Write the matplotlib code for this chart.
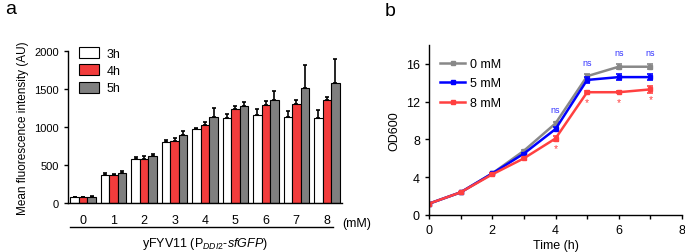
import numpy as np
import matplotlib
matplotlib.use("Agg")
import matplotlib.pyplot as plt

plt.rcParams['font.family'] = ['Liberation Sans', 'DejaVu Sans']
plt.rcParams['mathtext.fontset'] = 'custom'
plt.rcParams['mathtext.rm'] = 'Liberation Sans'
plt.rcParams['mathtext.it'] = 'Liberation Sans:italic'
plt.rcParams['font.size'] = 8

# ---------------- panel a data ----------------
conc = ['0', '1', '2', '3', '4', '5', '6', '7', '8']
hours = ['3h', '4h', '5h']
fl_3h = [75, 375, 575, 800, 970, 1120, 1160, 1135, 1125]
fl_4h = [75, 365, 585, 815, 1020, 1240, 1285, 1305, 1355]
fl_5h = [80, 395, 615, 900, 1135, 1280, 1355, 1510, 1580]
err_3h = [10, 15, 25, 30, 20, 50, 75, 75, 100]
err_4h = [10, 15, 30, 40, 50, 30, 60, 50, 40]
err_5h = [10, 20, 35, 50, 110, 45, 120, 300, 310]

# ---------------- panel b data ----------------
time_h = [0, 1, 2, 3, 4, 5, 6, 7]
od_0mM = [1.2, 2.4, 4.4, 6.8, 9.7, 14.7, 15.7, 15.7]
od_5mM = [1.2, 2.4, 4.4, 6.5, 9.1, 14.3, 14.6, 14.6]
od_8mM = [1.2, 2.4, 4.3, 6.0, 8.1, 13.0, 13.0, 13.3]
sd_0mM = [0.05, 0.05, 0.1, 0.1, 0.2, 0.2, 0.25, 0.25]
sd_5mM = [0.05, 0.05, 0.1, 0.1, 0.25, 0.3, 0.3, 0.3]
sd_8mM = [0.05, 0.05, 0.1, 0.1, 0.3, 0.1, 0.1, 0.4]
sig_times = [4, 5, 6, 7]

fig = plt.figure(figsize=(6.85, 2.53), dpi=100)

#====================== PANEL A ======================
ax1 = fig.add_axes([68 / 685, 1 - 204 / 253, 274 / 685, 152 / 253])
x = np.arange(len(conc))
w = 0.28
colors = ['white', '#f23c3c', '#7f7f7f']
for k, (vals, errs) in enumerate([(fl_3h, err_3h), (fl_4h, err_4h), (fl_5h, err_5h)]):
    ax1.bar(x + (k - 1) * w, vals, w, color=colors[k], edgecolor='black',
            linewidth=0.8, label=hours[k], zorder=2)
    ax1.errorbar(x + (k - 1) * w, vals, yerr=[np.zeros(len(errs)), errs],
                 fmt='none', ecolor='black', elinewidth=1.2, capsize=1.5,
                 capthick=1.2, zorder=3)

ax1.set_xlim(-0.5, 8.5)
ax1.set_ylim(0, 2000)
ax1.set_yticks([0, 500, 1000, 1500, 2000])
ax1.set_xticks(x)
ax1.set_xticklabels(conc, fontsize=9)
ax1.tick_params(axis='x', length=0, pad=8)
ax1.tick_params(axis='y', length=3, width=1, labelsize=8)
ax1.spines['top'].set_visible(False)
ax1.spines['right'].set_visible(False)
ax1.spines['left'].set_linewidth(1)
ax1.spines['bottom'].set_linewidth(1)
ax1.set_ylabel('Mean fluorescence intensity (AU)', fontsize=8.5, labelpad=4)
ax1.legend(loc='upper left', bbox_to_anchor=(0.0, 1.1), frameon=False,
           fontsize=9, handlelength=1.6, handleheight=1.0, labelspacing=0.35,
           handletextpad=0.6)
ax1.text(8.5, -0.095, '(mM)', transform=ax1.get_xaxis_transform(),
         ha='left', va='top', fontsize=9)
ax1.plot([-0.45, 8.2], [-0.155, -0.155], color='black', lw=1,
         transform=ax1.get_xaxis_transform(), clip_on=False)
ax1.text(4.0, -0.21, r'yFYV11 (P$_{\it{DDI2}}$-$\it{sfGFP}$)',
         transform=ax1.get_xaxis_transform(), ha='center', va='top', fontsize=9)

#====================== PANEL B ======================
ax2 = fig.add_axes([429 / 685, 1 - 216 / 253, 253 / 685, 170 / 253])
series = [(od_0mM, sd_0mM, '#888888', '0 mM'),
          (od_5mM, sd_5mM, '#0000ff', '5 mM'),
          (od_8mM, sd_8mM, '#ff4040', '8 mM')]
for vals, sds, c, lab in series:
    ax2.errorbar(time_h, vals, yerr=sds, fmt='none', ecolor=c, capsize=2,
                 capthick=1.2, elinewidth=1.2)
    ax2.plot(time_h, vals, color=c, lw=1.8, marker='s', markersize=2.5,
             label=lab)

for t in sig_times:
    i = time_h.index(t)
    ax2.text(t, od_0mM[i] + 1.0, 'ns', color='#3333ff', fontsize=6.5,
             ha='center', va='bottom')
    ax2.text(t, od_8mM[i] - 1.0, '*', color='#ff4040', fontsize=7.5,
             ha='center', va='center')

ax2.set_xlim(0, 8)
ax2.set_ylim(0, 18)
ax2.set_xticks([0, 2, 4, 6, 8])
ax2.set_xticks([1, 3, 5, 7], minor=True)
ax2.set_yticks([0, 4, 8, 12, 16])
ax2.tick_params(axis='both', which='major', length=3, width=1, labelsize=9)
ax2.tick_params(axis='x', which='minor', length=3, width=1)
ax2.spines['top'].set_visible(False)
ax2.spines['right'].set_visible(False)
ax2.spines['left'].set_linewidth(1)
ax2.spines['bottom'].set_linewidth(1)
ax2.set_xlabel('Time (h)', fontsize=9, labelpad=2)
ax2.set_ylabel('OD600', fontsize=9, labelpad=4)
ax2.legend(loc='upper left', bbox_to_anchor=(0.0, 0.99), frameon=False,
           fontsize=9, handlelength=2.0, labelspacing=0.6, handletextpad=0.4)

fig.text(5 / 685, 1 - 10 / 253, 'a', fontsize=14, va='center', ha='left')
fig.text(385 / 685, 1 - 12 / 253, 'b', fontsize=14, va='center', ha='left')

fig.savefig('out.png', dpi=100)
